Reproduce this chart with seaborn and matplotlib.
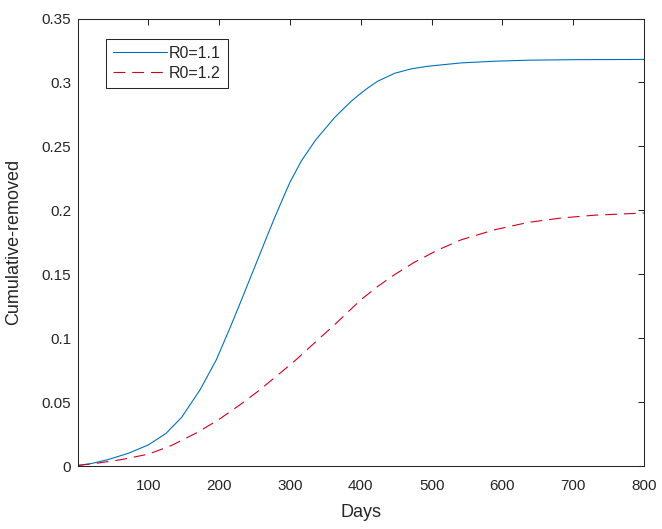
import numpy as np
import pandas as pd
import matplotlib
matplotlib.use("Agg")
import matplotlib.pyplot as plt
import seaborn as sns

# values
days_r11 = [1, 20, 43, 72, 100, 125, 147, 173, 196, 215, 232, 246, 255, 269,
            279, 293, 300, 316, 335, 340, 363, 373, 387, 400, 410, 424, 448,
            471, 495, 542, 589, 636, 700, 800]
removed_r11 = [0.0005, 0.002, 0.005, 0.010, 0.0165, 0.0255, 0.038, 0.0595,
               0.083, 0.1075, 0.1305, 0.1498, 0.1622, 0.1815, 0.195, 0.2131,
               0.2219, 0.2385, 0.254, 0.2575, 0.2725, 0.278, 0.2855, 0.2915,
               0.2957, 0.301, 0.3072, 0.3106, 0.3127, 0.3153, 0.3166, 0.3174,
               0.3178, 0.318]
days_r12 = [1, 25, 62, 100, 128, 137, 170, 200, 231, 255, 300, 311, 340, 363,
            370, 400, 424, 448, 476, 509, 542, 589, 636, 683, 730, 800]
removed_r12 = [0.0005, 0.002, 0.005, 0.0093, 0.015, 0.0172, 0.0265, 0.0365,
               0.0485, 0.0585, 0.079, 0.0843, 0.099, 0.1105, 0.1142, 0.130,
               0.1405, 0.1498, 0.1595, 0.169, 0.177, 0.1848, 0.1905, 0.194,
               0.1962, 0.1979]
labels = ["R0=1.1", "R0=1.2"]
x_ticks = [100, 200, 300, 400, 500, 600, 700, 800]
y_ticks = [0, 0.05, 0.1, 0.15, 0.2, 0.25, 0.3, 0.35]
y_tick_labels = ["0", "0.05", "0.1", "0.15", "0.2", "0.25", "0.3", "0.35"]

df11 = pd.DataFrame({"Days": days_r11, "removed": removed_r11})
df12 = pd.DataFrame({"Days": days_r12, "removed": removed_r12})

sns.set_theme(style="white")
plt.rcParams["font.family"] = ["Liberation Sans", "DejaVu Sans"]
plt.rcParams["lines.scale_dashes"] = False
plt.rcParams["axes.edgecolor"] = "#262626"
plt.rcParams["axes.linewidth"] = 0.75

fig = plt.figure(figsize=(6.62, 5.29), dpi=100)
ax = fig.add_axes([0.118, 0.119, 0.855, 0.846])

sns.lineplot(data=df11, x="Days", y="removed", ax=ax, color="#0072BD",
             linewidth=0.8, label=labels[0])
sns.lineplot(data=df12, x="Days", y="removed", ax=ax, color="#D0001C",
             linewidth=0.8, label=labels[1])
ax.lines[1].set_dashes((8.5, 5.0))

ax.set_xlim(1, 800)
ax.set_ylim(0, 0.35)
ax.set_xticks(x_ticks)
ax.set_xticklabels([str(t) for t in x_ticks])
ax.set_yticks(y_ticks)
ax.set_yticklabels(y_tick_labels)
ax.tick_params(direction="in", length=4, width=0.75, top=True, right=True,
               labelsize=11, colors="#262626", pad=5)
ax.tick_params(axis="x", pad=9)
ax.set_xlabel("Days", fontsize=13, color="#262626", labelpad=8)
ax.set_ylabel("Cumulative-removed", fontsize=13, color="#262626", labelpad=14)

leg = ax.legend(loc="upper left", bbox_to_anchor=(0.049, 0.955), fontsize=11.5,
                handlelength=3.4, handletextpad=0.1, borderpad=0.45,
                labelspacing=0.3, borderaxespad=0, fancybox=False,
                framealpha=1)
leg.get_frame().set_edgecolor("#262626")
leg.get_frame().set_linewidth(0.75)

fig.savefig("out.png", dpi=100)
